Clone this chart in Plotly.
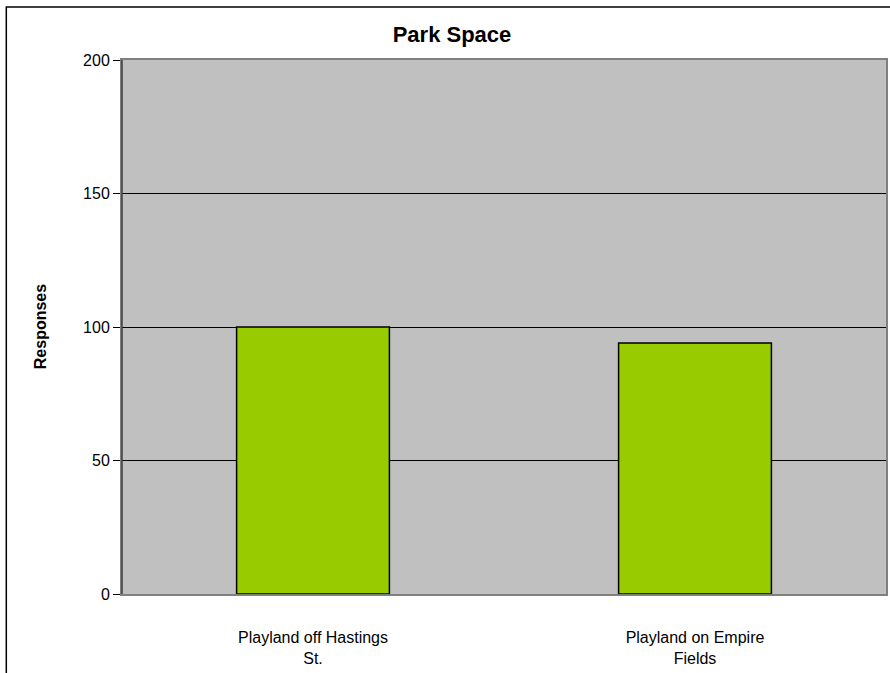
import plotly.graph_objects as go

categories = ["Playland off Hastings<br>St.", "Playland on Empire<br>Fields"]
responses = [100, 94]
y_ticks = [0, 50, 100, 150, 200]

W, H = 890, 673
L, R, T, B = 122, 2, 60, 79
pw, ph = W - L - R, H - T - B

def px_x(x):
    return (x - L) / pw

def px_y(y):
    return (H - B - y) / ph

fig = go.Figure(go.Bar(
    x=categories, y=responses, width=0.4,
    marker=dict(color="#99CC00", line=dict(color="black", width=1.5)),
))

font = "Liberation Sans, Arial, sans-serif"
fig.update_layout(
    width=W, height=H,
    margin=dict(l=L, r=R, t=T, b=B),
    paper_bgcolor="white", plot_bgcolor="#C0C0C0",
    showlegend=False,
    font=dict(family=font, size=16, color="black"),
    title=dict(text="<b>Park Space</b>", x=452 / W, xref="container", xanchor="center",
               y=1 - 34 / H, yref="container", yanchor="middle",
               font=dict(size=22, family=font, color="black")),
    bargap=0.6,
)
fig.update_xaxes(showline=True, linecolor="#808080", linewidth=2, mirror=True,
                 showgrid=False, ticks="", ticklabelstandoff=28,
                 tickfont=dict(size=16))
fig.update_yaxes(range=[0, 200], tickvals=y_ticks, showgrid=True, gridcolor="black",
                 gridwidth=1, showline=True, linecolor="#808080", linewidth=2, mirror=True,
                 ticks="outside", ticklen=7, tickcolor="black", zeroline=False,
                 tickfont=dict(size=16))

# darker left axis line like the reference
fig.add_shape(type="line", xref="paper", yref="paper", x0=0, x1=0, y0=0, y1=1,
              line=dict(color="#404040", width=1.5), layer="above")

fig.add_annotation(text="<b>Responses</b>", textangle=-90, xref="paper", yref="paper",
                   x=px_x(40), y=0.5, xanchor="center", yanchor="middle",
                   showarrow=False, font=dict(size=16, family=font))

fig.add_shape(type="rect", xref="paper", yref="paper",
              x0=px_x(6), x1=px_x(W + 10), y0=px_y(H + 10), y1=px_y(7),
              line=dict(color="black", width=1.5), layer="above")

fig.write_html("out.html")
